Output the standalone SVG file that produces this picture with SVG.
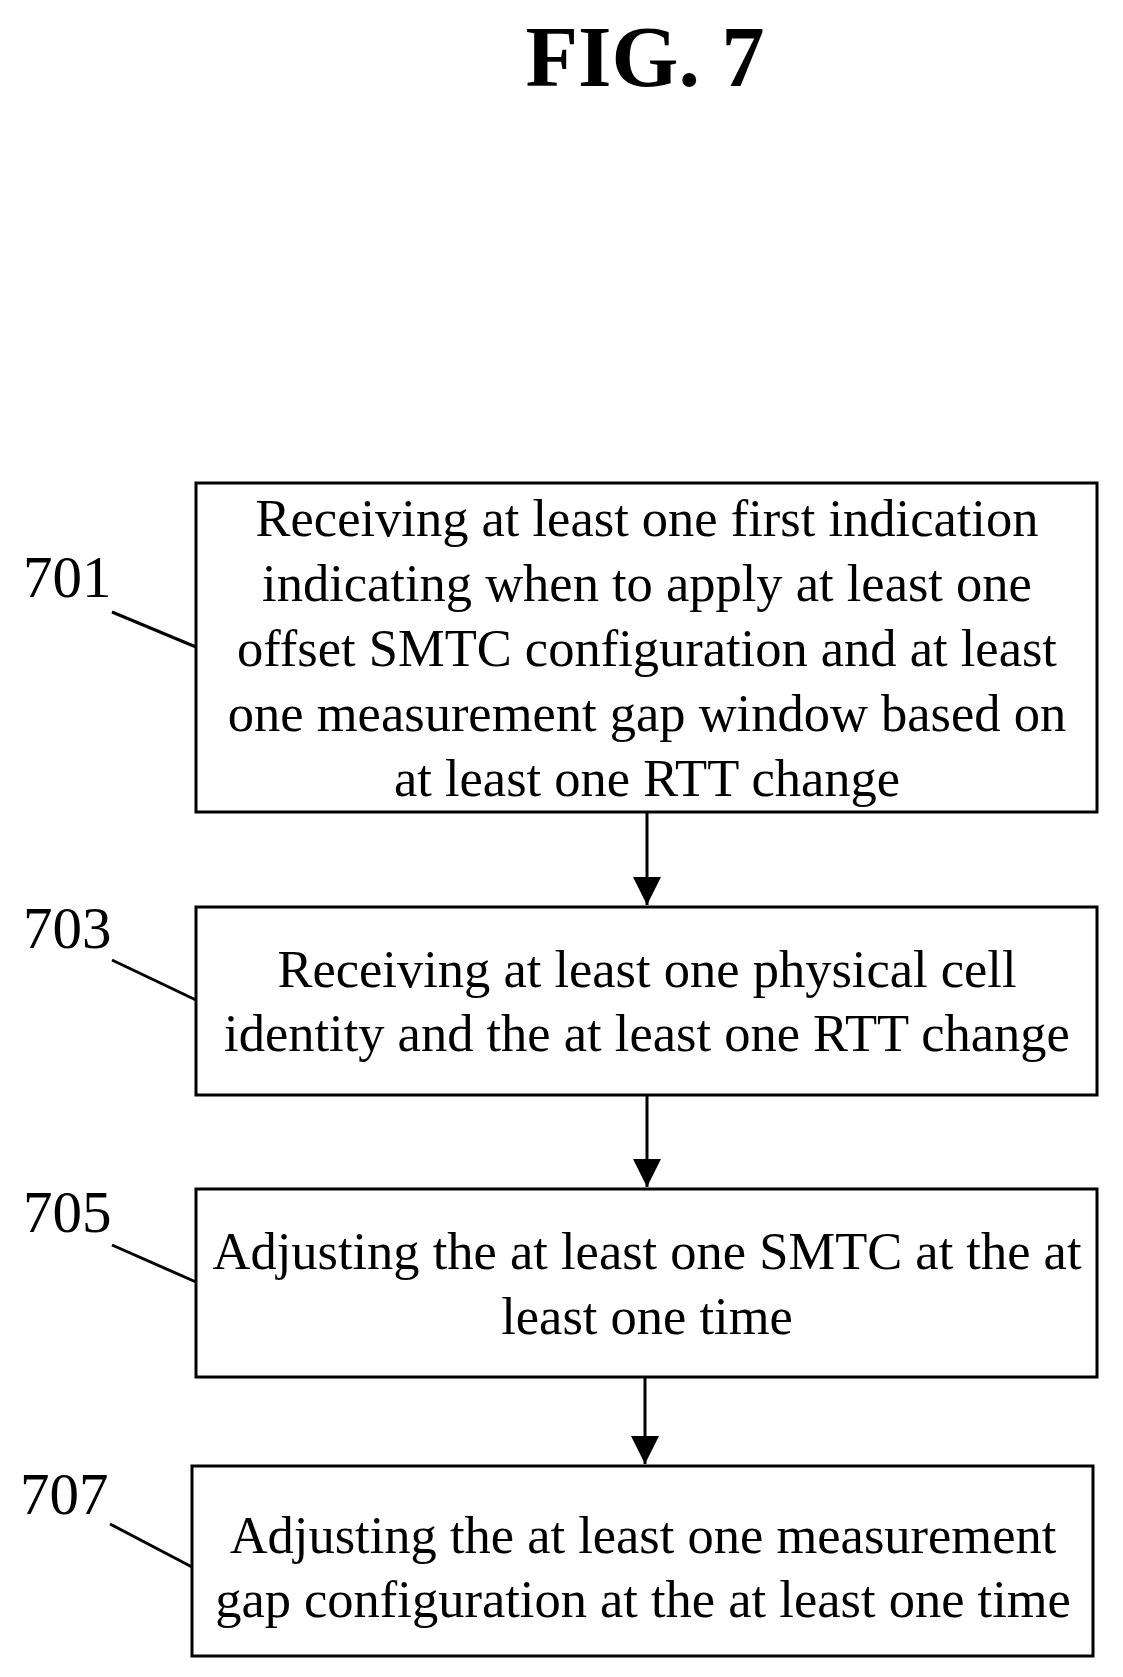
<svg xmlns="http://www.w3.org/2000/svg" width="1123" height="1677" viewBox="0 0 1123 1677">
<style>
text{font-family:"Liberation Serif",serif;fill:#000}
.t{font-size:52.5px;text-anchor:middle}
.l{font-size:59px}
rect{fill:#fff;stroke:#000;stroke-width:3}
line{stroke:#000;stroke-width:3}
</style>
<defs>
<marker id="ah" viewBox="0 0 10 10" refX="10" refY="5" markerWidth="28" markerHeight="28" orient="auto" markerUnits="userSpaceOnUse"><path d="M0,0 L10,5 L0,10 Z"/></marker></defs>
<rect width="1123" height="1677" style="stroke:none"/>
<text x="645" y="86" style="font-size:86px;text-anchor:middle;font-weight:bold">FIG. 7</text>
<g id="n701"><rect x="196" y="483" width="901" height="329"/>
<text class="t" x="647" y="536">Receiving at least one first indication</text>
<text class="t" x="647" y="601">indicating when to apply at least one</text>
<text class="t" x="647" y="666">offset SMTC configuration and at least</text>
<text class="t" x="647" y="731">one measurement gap window based on</text>
<text class="t" x="647" y="796">at least one RTT change</text>
<text class="l" x="23" y="597">701</text></g>
<g id="n703"><rect x="196" y="907" width="901" height="188"/>
<text class="t" x="647" y="987">Receiving at least one physical cell</text>
<text class="t" x="647" y="1051">identity and the at least one RTT change</text>
<text class="l" x="23" y="948">703</text></g>
<g id="n705"><rect x="196" y="1189" width="901" height="188"/>
<text class="t" x="647" y="1269">Adjusting the at least one SMTC at the at</text>
<text class="t" x="647" y="1334">least one time</text>
<text class="l" x="23" y="1232">705</text></g>
<g id="n707"><rect x="192" y="1466" width="901" height="190"/>
<text class="t" x="643" y="1553">Adjusting the at least one measurement</text>
<text class="t" x="643" y="1617">gap configuration at the at least one time</text>
<text class="l" x="20" y="1514">707</text></g>
<g id="connectors">
<line x1="112" y1="612" x2="196" y2="647"/>
<line x1="112" y1="960" x2="196" y2="1000"/>
<line x1="112" y1="1245" x2="196" y2="1282"/>
<line x1="110" y1="1524" x2="192" y2="1567"/>
<line x1="647" y1="812" x2="647" y2="905" marker-end="url(#ah)"/>
<line x1="647" y1="1095" x2="647" y2="1187" marker-end="url(#ah)"/>
<line x1="645" y1="1377" x2="645" y2="1464" marker-end="url(#ah)"/>
</g>
</svg>
